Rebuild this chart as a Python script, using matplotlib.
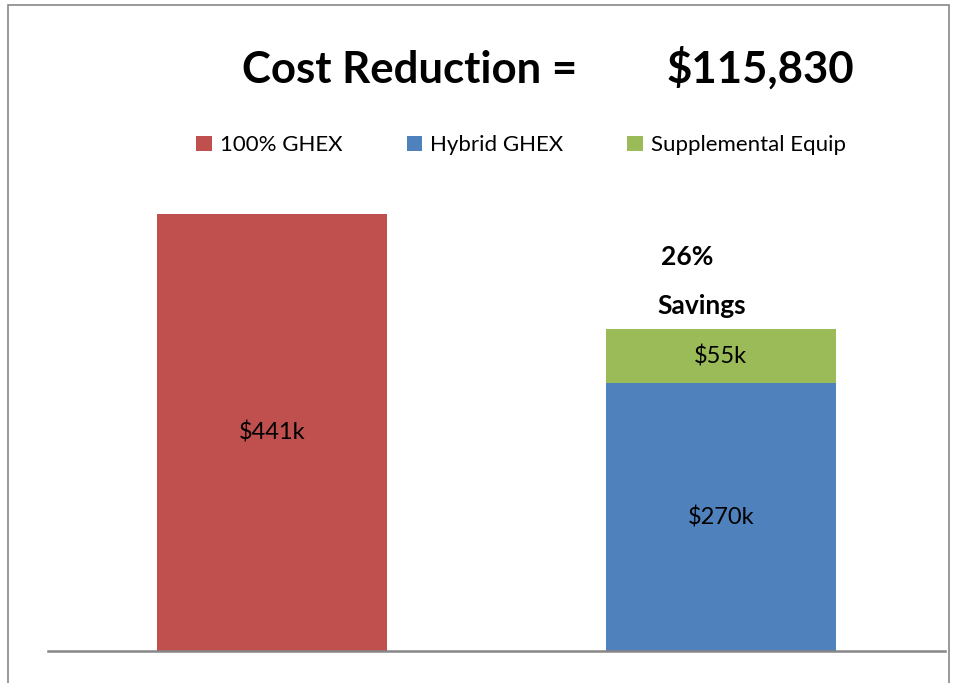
import matplotlib
matplotlib.use("Agg")
import matplotlib.pyplot as plt
from matplotlib.patches import Rectangle

plt.rcParams['font.family'] = ['Lato', 'DejaVu Sans']

categories = ["100% GHEX", "Hybrid GHEX"]
ghex_full = [441, 0]
ghex_hybrid = [0, 270]
supplemental = [0, 55]
series_names = ["100% GHEX", "Hybrid GHEX", "Supplemental Equip"]
colors = ["#C0504D", "#4F81BD", "#9BBB59"]
cost_reduction = "$115,830"
savings_pct = "26%"

W, H = 954, 683
fig = plt.figure(figsize=(W / 100, H / 100), dpi=100)

# outer frame (open at the bottom edge)
fig.add_artist(Rectangle((8 / W, -0.05), (949 - 8) / W, 1.05 - 5 / H,
                         transform=fig.transFigure, fill=False,
                         edgecolor="#878787", linewidth=1.2))

ax = fig.add_axes([48 / W, 1 - 651 / H, (945 - 48) / W, (651 - 155.5) / H])
x = list(range(len(categories)))
width = 0.513

ax.bar(x, ghex_full, width, color=colors[0], label=series_names[0])
ax.bar(x, ghex_hybrid, width, color=colors[1], label=series_names[1])
ax.bar(x, supplemental, width, bottom=ghex_hybrid, color=colors[2],
       label=series_names[2])

ax.set_xlim(-0.5, 1.5)
ax.set_ylim(0, 500)
for s in ["top", "left", "right"]:
    ax.spines[s].set_visible(False)
ax.spines["bottom"].set_color("#868686")
ax.spines["bottom"].set_linewidth(1.8)
ax.set_xticks([])
ax.set_yticks([])

# value labels
lbl = 17
ax.text(0, ghex_full[0] / 2, f"${ghex_full[0]}k", ha="center", va="center",
        fontsize=lbl)
ax.text(1, ghex_hybrid[1] / 2, f"${ghex_hybrid[1]}k", ha="center",
        va="center", fontsize=lbl)
ax.text(1, ghex_hybrid[1] + supplemental[1] / 2, f"${supplemental[1]}k",
        ha="center", va="center", fontsize=lbl)

fig.text(687 / W, 1 - 257 / H, savings_pct, ha="center", va="center",
         fontsize=19, fontweight="bold")
fig.text(702 / W, 1 - 306 / H, "Savings", ha="center", va="center",
         fontsize=19, fontweight="bold")

fig.text(410 / W, 1 - 70 / H, "Cost Reduction =", ha="center", va="center",
         fontsize=31.5, fontweight="bold")
fig.text(760 / W, 1 - 68 / H, cost_reduction, ha="center", va="center",
         fontsize=31.5, fontweight="bold")

fig.legend(loc="center", bbox_to_anchor=(521 / W, 1 - 145 / H), ncol=3,
           frameon=False, fontsize=16, handlelength=0.68, handleheight=0.68,
           handletextpad=0.36, columnspacing=2.9)

fig.savefig("out.png", dpi=100)
